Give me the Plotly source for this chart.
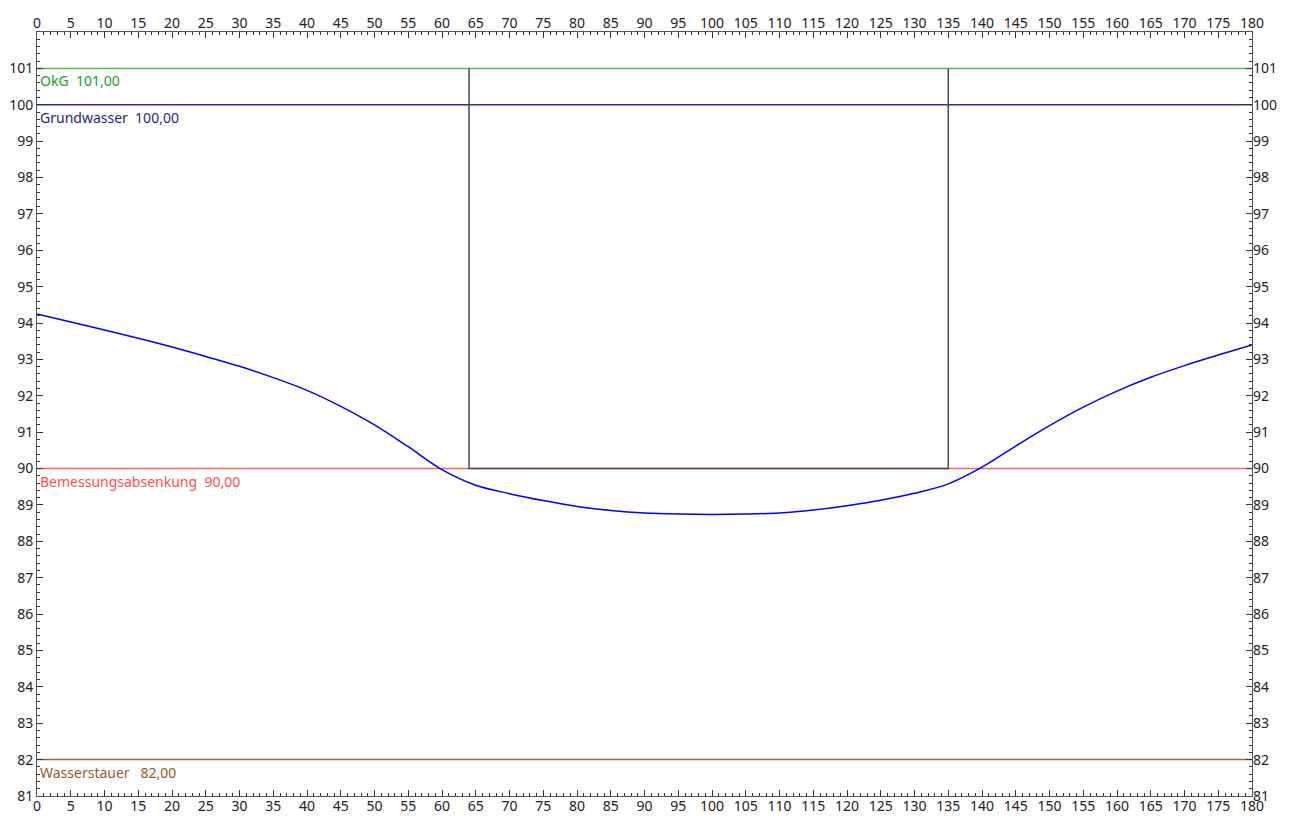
import plotly.graph_objects as go

# Data
curve_x = [0, 5, 10, 15, 20, 25, 30, 35, 40, 45, 50, 55, 60, 65, 70, 75, 80, 85, 90, 95,
           100, 105, 110, 115, 120, 125, 130, 135, 140, 145, 150, 155, 160, 165, 170, 175, 180]
curve_y = [94.25, 94.03, 93.81, 93.58, 93.34, 93.08, 92.81, 92.50, 92.15, 91.71, 91.20, 90.60,
           89.97, 89.54, 89.31, 89.12, 88.96, 88.85, 88.78, 88.75, 88.74, 88.75, 88.78, 88.86,
           88.98, 89.13, 89.32, 89.58, 90.04, 90.62, 91.18, 91.69, 92.13, 92.51, 92.83, 93.12,
           93.40]

box_x = [64, 64, 135, 135]
box_y = [101, 90, 90, 101]

levels = [101.0, 100.0, 90.0, 82.0]
level_names = ["OkG", "Grundwasser", "Bemessungsabsenkung", "Wasserstauer"]
level_sep = ["\u00a0\u00a0", "\u00a0\u00a0", "\u00a0\u00a0", "\u00a0\u00a0\u00a0"]
level_line_colors = ["#5cb85c", "#2e2e8c", "#ff6464", "#a0663a"]
level_text_colors = ["#2a9a2a", "#1e1e8c", "#ff5050", "#9a5a2a"]

x_range = [0, 180]
y_range = [81, 102]
x_ticks = list(range(0, 181, 5))
y_ticks = list(range(81, 102))

FONT = "Noto Sans"

fig = go.Figure()

for val, col in zip(levels, level_line_colors):
    fig.add_trace(go.Scatter(x=x_range, y=[val, val], mode="lines",
                             line=dict(color=col, width=1.5), hoverinfo="skip",
                             showlegend=False))

fig.add_trace(go.Scatter(x=box_x, y=box_y, mode="lines",
                         line=dict(color="#4a4a4a", width=1.5), showlegend=False))

fig.add_trace(go.Scatter(x=curve_x, y=curve_y, mode="lines",
                         line=dict(color="#0000ff", width=1.5, shape="spline", smoothing=1.0),
                         showlegend=False))

for val, name, sep, col in zip(levels, level_names, level_sep, level_text_colors):
    txt = f"{name}{sep}{val:.2f}".replace(".", ",")
    fig.add_annotation(x=0, y=val, xref="x", yref="y", text=txt, showarrow=False,
                       xanchor="left", yanchor="top", xshift=1, yshift=-1,
                       font=dict(family=FONT, size=14, color=col))

axis_common = dict(showline=True, linecolor="#555555", linewidth=1, showgrid=False,
                   zeroline=False, ticks="inside", ticklen=6, tickcolor="#333333",
                   tickfont=dict(family=FONT, size=14, color="#222222"))

# The page body has an 8px margin, so the figure is sized/margined to put the
# plot area at the reference position inside the 1289x816 window.
fig.update_layout(
    width=1281, height=808,
    margin=dict(l=29, r=37, t=24, b=20, autoexpand=False),
    paper_bgcolor="white", plot_bgcolor="white",
    showlegend=False,
    xaxis=dict(range=x_range, tickmode="array", tickvals=x_ticks, mirror="ticks",
               ticklabelstandoff=-3,
               minor=dict(ticks="inside", dtick=1, tick0=0, ticklen=3, tickcolor="#333333"),
               **axis_common),
    xaxis2=dict(range=x_range, tickmode="array", tickvals=x_ticks, overlaying="x", side="top",
                matches="x", showline=False, showgrid=False, zeroline=False, ticks="",
                tickfont=dict(family=FONT, size=14, color="#222222")),
    yaxis=dict(range=y_range, tickmode="array", tickvals=y_ticks, mirror="ticks",
               minor=dict(ticks="inside", dtick=0.2, tick0=81, ticklen=3, tickcolor="#333333"),
               **axis_common),
    yaxis2=dict(range=y_range, tickmode="array", tickvals=y_ticks, overlaying="y", side="right",
                matches="y", showline=False, showgrid=False, zeroline=False, ticks="",
                tickfont=dict(family=FONT, size=14, color="#222222")),
)

# invisible trace so the secondary axes render
fig.add_trace(go.Scatter(x=x_range, y=y_range, xaxis="x2", yaxis="y2", mode="markers",
                         marker=dict(opacity=0), hoverinfo="skip", showlegend=False))

fig.write_html("out.html")
